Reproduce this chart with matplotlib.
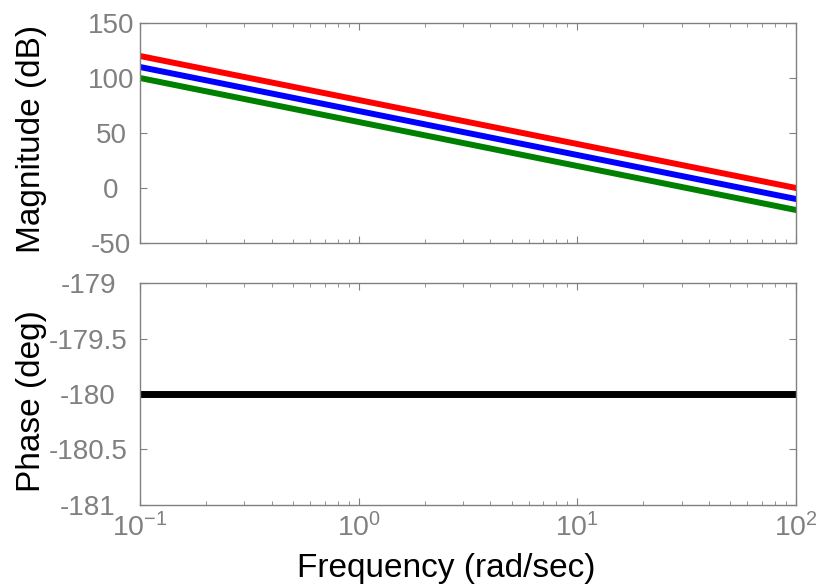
import matplotlib
matplotlib.use("Agg")
import matplotlib.pyplot as plt
from matplotlib.ticker import LogLocator, NullFormatter

plt.rcParams['font.family'] = ['Liberation Sans', 'DejaVu Sans']
plt.rcParams['mathtext.fontset'] = 'custom'
plt.rcParams['mathtext.rm'] = 'Liberation Sans'
plt.rcParams['mathtext.it'] = 'Liberation Sans'
plt.rcParams['mathtext.bf'] = 'Liberation Sans'
plt.rcParams['mathtext.default'] = 'regular'
plt.rcParams['axes.unicode_minus'] = False

freq = [0.1, 1, 10, 100]
mag_red = [120, 80, 40, 0]
mag_blue = [110, 70, 30, -10]
mag_green = [100, 60, 20, -20]
phase = [-180, -180, -180, -180]

mag_ticks = [-50, 0, 50, 100, 150]
phase_ticks = [-181, -180.5, -180, -179.5, -179]
phase_labels = ['-181', '-180.5', '-180', '-179.5', '-179']

gray = '#808080'
fig = plt.figure(figsize=(8.17, 5.84), dpi=100)
ax1 = fig.add_axes([0.1714, 0.5839, 0.8029, 0.3767])
ax2 = fig.add_axes([0.1714, 0.1353, 0.8029, 0.3801])

ax1.plot(freq, mag_red, color='#ff0000', lw=4.3)
ax1.plot(freq, mag_blue, color='#0000ff', lw=4.3)
ax1.plot(freq, mag_green, color='#008000', lw=4.3)
ax2.plot(freq, phase, color='black', lw=5)

for ax in (ax1, ax2):
    ax.set_xscale('log')
    ax.set_xlim(0.1, 100)
    ax.xaxis.set_major_locator(LogLocator(base=10, numticks=10))
    ax.xaxis.set_minor_locator(LogLocator(base=10, subs=range(2, 10), numticks=10))
    ax.xaxis.set_minor_formatter(NullFormatter())
    ax.tick_params(which='both', direction='in', top=True, right=True,
                   colors=gray, labelcolor=gray, labelsize=20)
    ax.tick_params(which='major', length=5)
    ax.tick_params(which='minor', length=3)
    for s in ax.spines.values():
        s.set_color(gray)
        s.set_linewidth(1.0)

ax1.set_ylim(-50, 150)
ax1.set_yticks(mag_ticks)
ax1.tick_params(axis='x', labelbottom=False)
ax1.tick_params(axis='y', pad=20.9)
for t in ax1.get_yticklabels():
    t.set_horizontalalignment('center')
ax1.set_ylabel('Magnitude (dB)', fontsize=24, color='black')
ax1.yaxis.label.set_verticalalignment('baseline')
ax1.yaxis.set_label_coords(-0.152, 0.473)

ax2.set_ylim(-181, -179)
ax2.set_yticks(phase_ticks)
ax2.set_yticklabels(phase_labels)
ax2.tick_params(axis='y', pad=37.4)
for t in ax2.get_yticklabels():
    t.set_horizontalalignment('center')
ax2.set_ylabel('Phase (deg)', fontsize=24, color='black')
ax2.yaxis.label.set_verticalalignment('baseline')
ax2.yaxis.set_label_coords(-0.152, 0.47)
ax2.set_xlabel('Frequency (rad/sec)', fontsize=24, color='black')
ax2.xaxis.label.set_verticalalignment('baseline')
ax2.xaxis.set_label_coords(0.467, -0.324)
ax2.tick_params(axis='x', pad=5.5, labelsize=20.5)

fig.savefig('out.png', dpi=100)
